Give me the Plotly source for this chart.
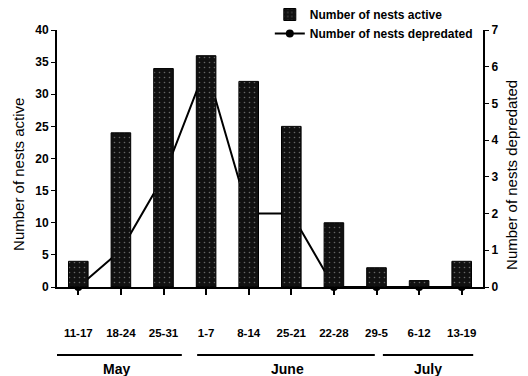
import plotly.graph_objects as go

weeks = ["11-17", "18-24", "25-31", "1-7", "8-14", "25-21", "22-28", "29-5", "6-12", "13-19"]
nests_active = [4, 24, 34, 36, 32, 25, 10, 3, 1, 4]
nests_depredated = [0, 1, 3, 6, 2, 2, 0, 0, 0, 0]
months = ["May", "June", "July"]
month_start = [-0.62, 2.79, 7.15]
month_end = [2.43, 6.96, 9.27]
month_center = [0.9, 4.9, 8.2]

BOLD = "Liberation Sans, Arial"
REG = "Liberation Sans, Arial"
xs = list(range(len(weeks)))

fig = go.Figure()
fig.add_trace(go.Scatter(
    x=xs, y=nests_depredated, name="Number of nests depredated",
    mode="lines+markers", line=dict(color="black", width=2),
    marker=dict(color="black", size=8), yaxis="y", legendrank=2,
    cliponaxis=False,
))
fig.add_trace(go.Bar(
    x=xs, y=nests_active, name="Number of nests active", yaxis="y2",
    width=0.46,
    marker=dict(color="#111111", line=dict(color="black", width=1),
                pattern=dict(shape=".", fgcolor="#bbbbbb", bgcolor="#111111",
                             size=5, solidity=0.08)),
    legendrank=1,
))

shapes = []
annotations = []
for m, s, e, c in zip(months, month_start, month_end, month_center):
    shapes.append(dict(type="line", xref="x", yref="paper", x0=s, x1=e,
                       y0=-0.265, y1=-0.265, line=dict(color="black", width=2)))
    annotations.append(dict(text=m, x=c, y=-0.28, xref="x", yref="paper",
                            showarrow=False, yanchor="top",
                            font=dict(family=BOLD, size=14, color="black", weight="bold")))

annotations.append(dict(text="Number of nests active", textangle=-90, x=(19 - 57) / 426,
                        xref="paper", y=0.436, yref="paper", showarrow=False,
                        xanchor="center", yanchor="middle",
                        font=dict(family=REG, size=15, color="black")))
annotations.append(dict(text="Number of nests depredated", textangle=-90, x=(512 - 57) / 426,
                        xref="paper", y=0.436, yref="paper", showarrow=False,
                        xanchor="center", yanchor="middle",
                        font=dict(family=REG, size=15, color="black")))

fig.update_layout(
    width=528, height=376,
    margin=dict(l=57, r=45, t=30, b=89, autoexpand=False),
    paper_bgcolor="white", plot_bgcolor="white",
    font=dict(family=BOLD, size=12, color="black"),
    showlegend=True,
    legend=dict(x=0.511, y=1.0, xref="container", yref="container",
                xanchor="left", yanchor="top",
                bgcolor="rgba(0,0,0,0)",
                font=dict(family=BOLD, size=12, color="black", weight="bold"),
                tracegroupgap=0),
    xaxis=dict(range=[-0.5, 9.5], tickmode="array", tickvals=xs, ticktext=weeks,
               showline=True, linecolor="black", linewidth=2, ticks="outside",
               tickson="boundaries", ticklen=6, tickwidth=1.5, tickcolor="black",
               showgrid=False, zeroline=False, ticklabelstandoff=28, automargin=False,
               tickfont=dict(family=BOLD, size=11.5, color="black", weight="bold")),
    yaxis=dict(range=[0, 7], dtick=1, side="right", showline=True, linecolor="black",
               linewidth=2, ticks="outside", ticklen=4, tickcolor="black",
               showgrid=False, zeroline=False, automargin=False,
               tickfont=dict(family=BOLD, size=12, color="black", weight="bold")),
    yaxis2=dict(range=[0, 40], dtick=5, side="left", overlaying="y", showline=True,
                linecolor="black", linewidth=2, ticks="outside", ticklen=4,
                tickcolor="black", showgrid=False, zeroline=False, automargin=False,
                tickfont=dict(family=BOLD, size=12, color="black", weight="bold")),
    shapes=shapes, annotations=annotations,
)

fig.write_html("out.html", config={"displayModeBar": False},
               post_script="document.body.style.margin='0';")
